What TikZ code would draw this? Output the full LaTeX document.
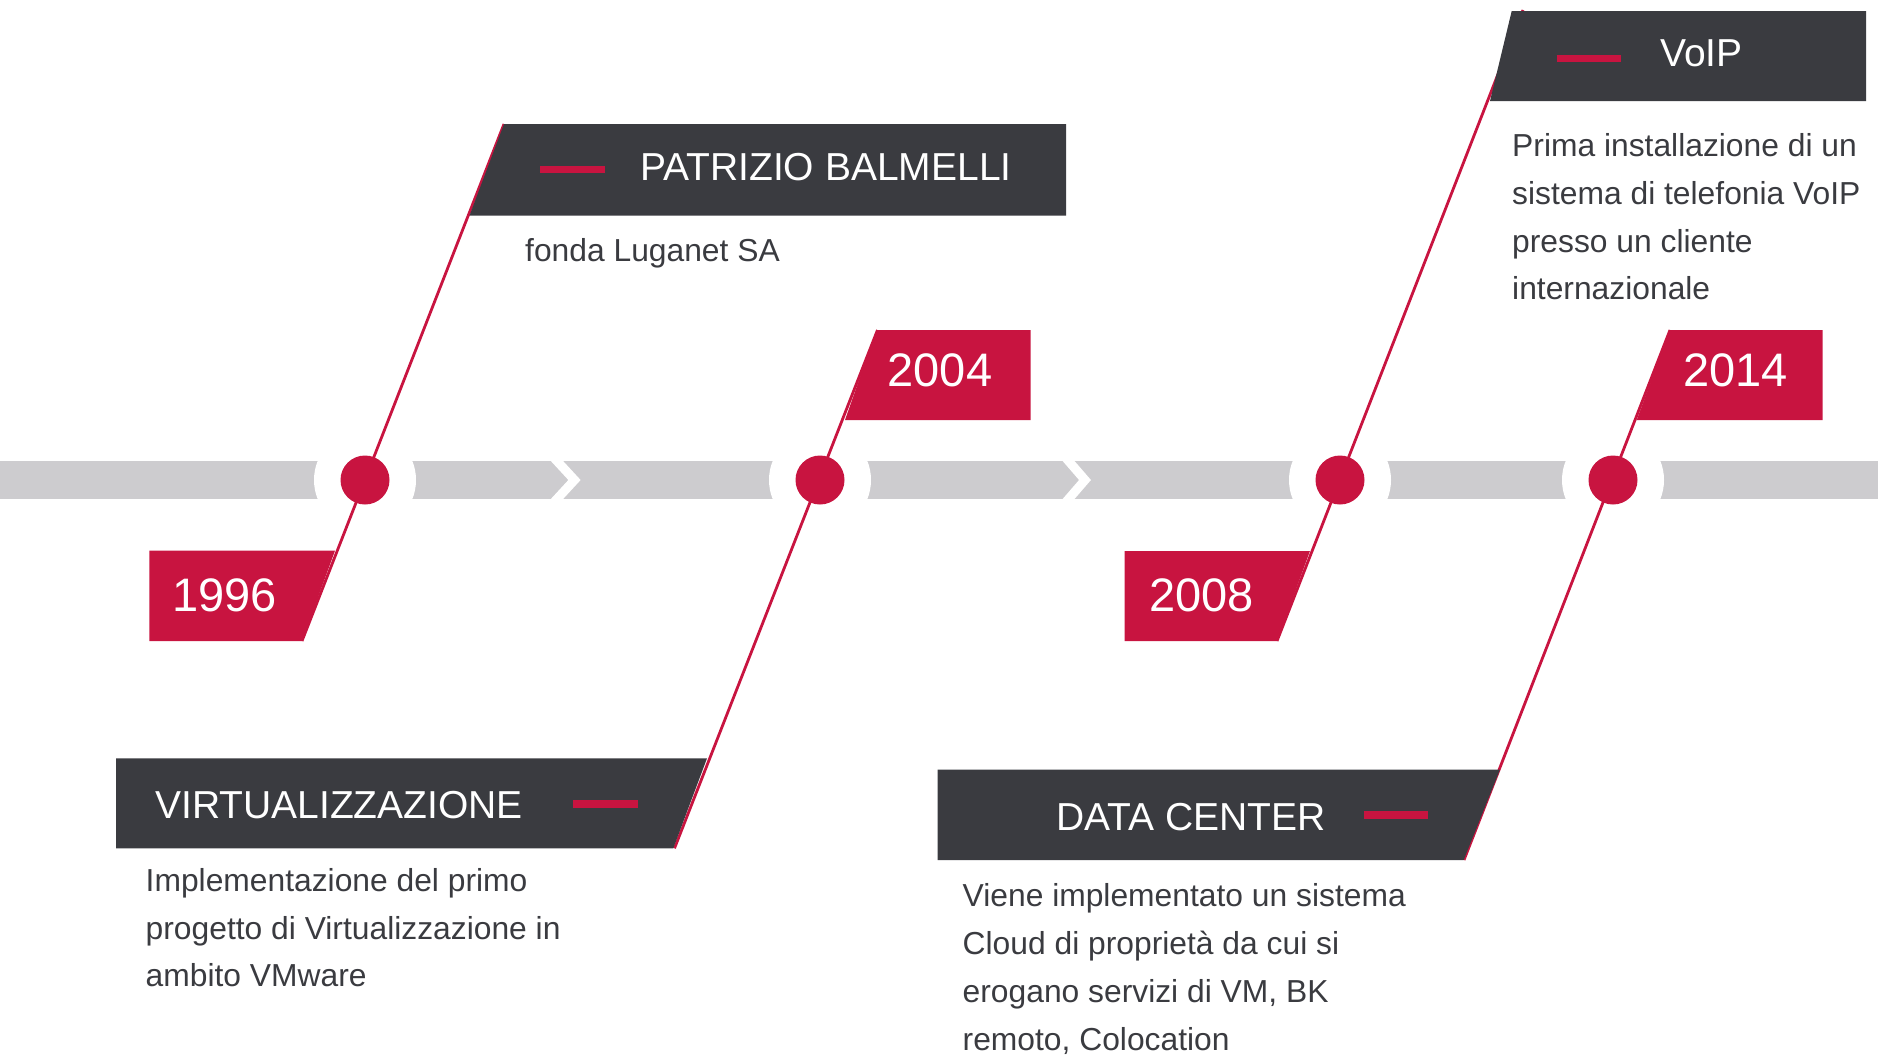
\documentclass[tikz,border=0pt]{standalone}
\usepackage{fontspec}
\setmainfont{Liberation Sans}
\definecolor{lgred}{RGB}{200,20,64}
\definecolor{lgdark}{RGB}{58,59,64}
\definecolor{lggray}{RGB}{205,204,207}
\begin{document}
\begin{tikzpicture}[x=1bp,y=-1bp,
  head/.style={anchor=base west,inner sep=0,text=white,font=\fontsize{39bp}{40bp}\selectfont},
  year/.style={anchor=base west,inner sep=0,text=white,font=\fontsize{47bp}{48bp}\selectfont},
  body/.style={anchor=base west,inner sep=0,text=lgdark,font=\fontsize{31.8bp}{34bp}\selectfont},
  dot/.style={circle,fill=lgred,inner sep=0,minimum size=49bp},
  stem/.style={lgred,line width=2.8bp},
  redbar/.style={lgred,line width=7.5bp},
  chevron/.style={white,line width=9bp}]
\useasboundingbox (0,0) rectangle (1878,1056);
\fill[lggray] (0,461) rectangle (1878,499);
\draw[chevron] (550.5,454)--(574.5,480)--(550.5,506);
\draw[chevron] (1062.5,454)--(1085,480)--(1062.5,506);
\foreach \x in {365,820,1340,1613}
  \fill[white] (\x,480) circle (51);
\coordinate (t1996) at (504,124);
\coordinate (b1996) at (302,641);
\coordinate (t2004) at (877.5,330);
\coordinate (b2004) at (674.5,848.3);
\coordinate (t2008) at (1523,10);
\coordinate (b2008) at (1277,641);
\coordinate (t2014) at (1670,330);
\coordinate (b2014) at (1464,860);
\foreach \n in {1996,2004,2008,2014}
  \draw[stem] (t\n) -- (b\n);
\fill[lgdark] (504,124) -- (1066,124) -- (1066,215.6) -- (469.5,215.6) -- cycle;
\fill[lgdark] (1511.7,11) -- (1866,11) -- (1866,101) -- (1490,101) -- cycle;
\fill[lgdark] (116,758.3) -- (707,758.3) -- (673.3,848.3) -- (116,848.3) -- cycle;
\fill[lgdark] (937.5,769.5) -- (1500,769.5) -- (1463.7,860) -- (937.5,860) -- cycle;
\fill[lgred] (149.3,550.7) -- (335,550.7) -- (302,641) -- (149.3,641) -- cycle;
\fill[lgred] (1124.5,551) -- (1310,551) -- (1277,641) -- (1124.5,641) -- cycle;
\fill[lgred] (876.7,330) -- (1030.7,330) -- (1030.7,420) -- (845,420) -- cycle;
\fill[lgred] (1670,330) -- (1822.7,330) -- (1822.7,420) -- (1636.7,420) -- cycle;
\node[dot] (dot1996) at (365,480) {};
\node[dot] (dot2004) at (820,480) {};
\node[dot] (dot2008) at (1340,480) {};
\node[dot] (dot2014) at (1613,480) {};
\draw[redbar] (540,169.5) -- (605,169.5);
\draw[redbar] (1556.7,58.7) -- (1620.7,58.7);
\draw[redbar] (573.3,803.8) -- (637.8,803.8);
\draw[redbar] (1363.8,815) -- (1428,815);
\node[year] (y1996) at (172,611) {1996};
\node[year] (y2004) at (887.5,386.5) {2004};
\node[year] (y2008) at (1149,611) {2008};
\node[year] (y2014) at (1683,386.5) {2014};
\node[head] (pat) at (640,180) {PATRIZIO BALMELLI};
\node[head] (voip) at (1660,66.7) {VoIP};
\node[head] (virt) at (155,818.3) {VIRTUALIZZAZIONE};
\node[head] (dc) at (1056,830) {DATA CENTER};
\node[body] (fonda) at (525,261) {fonda Luganet SA};
\foreach \txt [count=\i from 0] in {Prima installazione di un, sistema di telefonia VoIP, presso un cliente, internazionale}
  \node[body] (voipd\i) at (1512,{156.5+47.8*\i}) {\txt};
\foreach \txt [count=\i from 0] in {Implementazione del primo, progetto di Virtualizzazione in, ambito VMware}
  \node[body] (virtd\i) at (145.5,{891.7+47.6*\i}) {\txt};
\foreach \txt [count=\i from 0] in {Viene implementato un sistema, Cloud di proprietà da cui si, {erogano servizi di VM, BK}, {remoto, Colocation}}
  \node[body] (dcd\i) at (962.5,{906.7+48*\i}) {\txt};
\end{tikzpicture}
\end{document}
